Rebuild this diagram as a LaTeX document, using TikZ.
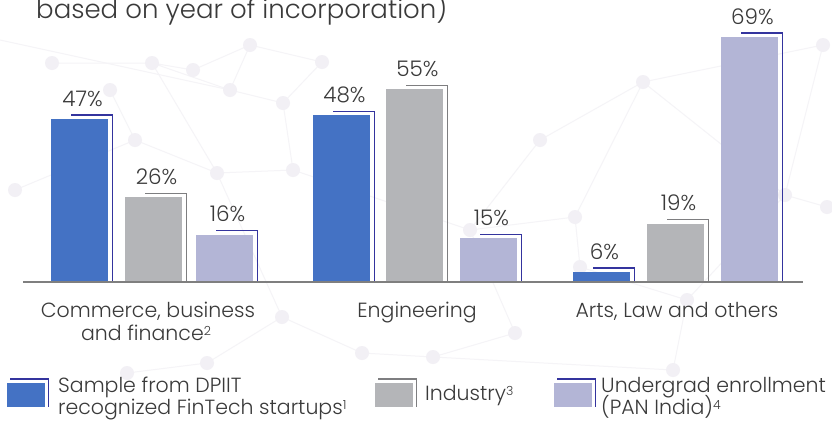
\documentclass[tikz,border=0pt]{standalone}
\usepackage{fontspec}
\setmainfont{Poppins}[UprightFont=* Light]
\definecolor{txt}{HTML}{3A3A3A}
\definecolor{bblue}{HTML}{4472C4}
\definecolor{bgray}{HTML}{B4B5B8}
\definecolor{blav}{HTML}{B3B5D6}
\definecolor{edark}{HTML}{34349E}
\definecolor{egray}{HTML}{7E7E80}
\definecolor{axisc}{HTML}{7F7F7F}
\definecolor{net}{HTML}{F5F4F7}
\definecolor{netdot}{HTML}{F2F0F5}
\newcommand\fnote[1]{\raisebox{4.5pt}{\fontsize{12.5}{12.5}\selectfont #1}}
\newcommand\drawbar[5]{%
  \pgfmathsetmacro\bt{294.4-3.73*#3}%
  \pgfmathsetmacro\xr{#2+57}%
  \pgfmathsetmacro\xs{#2+20}%
  \fill[#4] (#2,\bt) rectangle (\xr,282);
  \draw[edgeline,#5] (\xs,\bt-4) -- (\xr+4.5,\bt-4) -- (\xr+4.5,282);
  \node[pct] (#1) at (#2+31.5,\bt-13) {#3\%};
}
\newcommand\swatch[4]{%
  \pgfmathsetmacro\xr{#2+38}%
  \fill[#3] (#2,383) rectangle (\xr,407);
  \draw[edgeline,#4] (#2+3,379) -- (\xr+3.5,379) -- (\xr+3.5,407);
  \coordinate (#1) at (#2,395);
}
\begin{document}
\begin{tikzpicture}[x=1pt,y=-1pt,
  pct/.style={anchor=base,inner sep=0pt,text=txt,font=\fontsize{21.5}{24}\selectfont},
  cat/.style={anchor=base,inner sep=0pt,text=txt,font=\fontsize{20.5}{24}\selectfont},
  leg/.style={anchor=base west,inner sep=0pt,text=txt,font=\fontsize{20.5}{24}\selectfont},
  edgeline/.style={line width=1.5pt},
  netline/.style={net,line width=1pt},
  netnode/.style={fill=netdot}]
\useasboundingbox (0,0) rectangle (832,421);
\fill[white] (0,0) rectangle (832,421);
% faint background network
\draw[netline] (52,63) -- (152,63) -- (193,70) -- (250,45) -- (322,62) -- (283,103) -- (230,90) -- (152,63);
\draw[netline] (152,63) -- (217,173) -- (293,170) -- (283,103);
\draw[netline] (110,90) -- (135,140) -- (15,190);
\draw[netline] (135,140) -- (217,173) -- (282,317) -- (207,363) -- (127,373);
\draw[netline] (282,317) -- (362,353) -- (433,357) -- (515,333) -- (470,230) -- (540,140) -- (643,82) -- (823,45);
\draw[netline] (643,82) -- (575,217) -- (580,267) -- (687,300) -- (785,195) -- (827,207);
\draw[netline] (643,82) -- (785,195) -- (823,45);
\draw[netline] (433,357) -- (673,370) -- (687,300);
\draw[netline] (293,170) -- (470,230) -- (575,217);
\draw[netline] (250,45) -- (230,90) -- (0,40);
\foreach \a/\b in {52/63, 152/63, 193/70, 250/45, 230/90, 283/103, 322/62, 135/140, 217/173, 293/170, 15/190, 110/90,
  643/82, 823/45, 575/217, 785/195, 827/207, 580/267, 687/300, 207/363, 362/353, 127/373, 673/370, 515/333, 433/357, 282/317, 470/230, 540/140}
  \fill[netdot] (\a,\b) circle (7);
% title
\node[anchor=base west,inner sep=0pt,text=txt,font=\fontsize{26}{30}\selectfont] (title) at (36,18) {based on year of incorporation)};
% bars
\drawbar{c1}{51}{47}{bblue}{edark}
\drawbar{c2}{125}{26}{bgray}{egray}
\drawbar{c3}{196}{16}{blav}{edark}
\drawbar{e1}{313}{48}{bblue}{edark}
\drawbar{e2}{386}{55}{bgray}{egray}
\drawbar{e3}{460}{15}{blav}{edark}
\drawbar{a1}{573}{6}{bblue}{edark}
\drawbar{a2}{647}{19}{bgray}{egray}
\drawbar{a3}{721}{69}{blav}{edark}
% axis
\coordinate (axl) at (23,282);
\coordinate (axr) at (803,282);
\draw[axisc,line width=2.5pt] (axl) -- (axr);
% category labels
\node[cat] (catc) at (148,317) {Commerce, business};
\node[cat] (catc2) at (146,340) {and finance\fnote{2}};
\node[cat] (cate) at (417,317) {Engineering};
\node[cat] (cata) at (677,317) {Arts, Law and others};
% legend
\swatch{s1}{7}{bblue}{edark}
\swatch{s2}{375}{bgray}{egray}
\swatch{s3}{554}{blav}{edark}
\node[leg] (l1) at (58,392) {Sample from DPIIT};
\node[leg] (l1b) at (58,414) {recognized FinTech startups\fnote{1}};
\node[leg] (l2) at (425,400) {Industry\fnote{3}};
\node[leg] (l3) at (601,392) {Undergrad enrollment};
\node[leg] (l3b) at (601,414) {(PAN India)\fnote{4}};
\end{tikzpicture}
\end{document}
